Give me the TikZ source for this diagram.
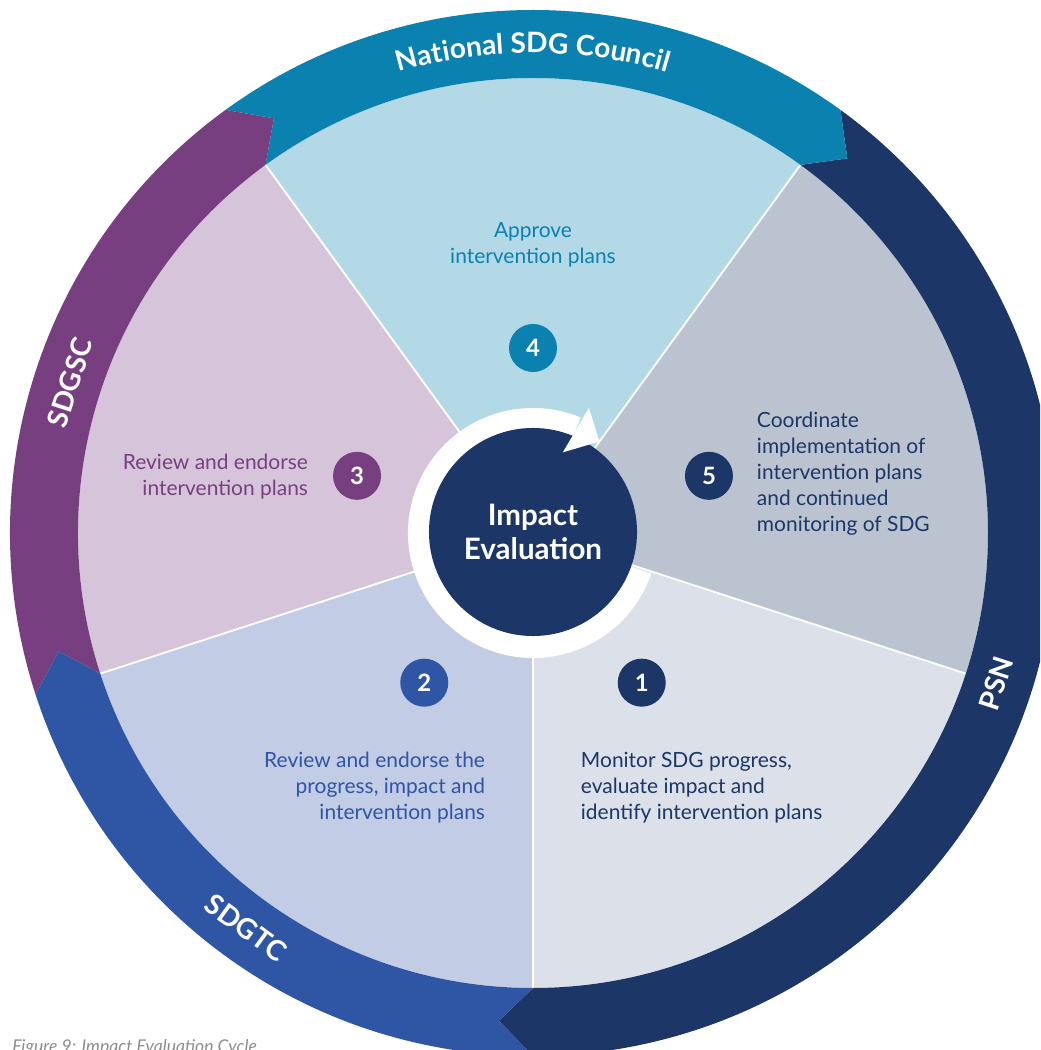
\documentclass[tikz,border=0pt]{standalone}
\usepackage{fontspec}
\setmainfont{Lato}
\usetikzlibrary{decorations.text}

\definecolor{psnnavy}{HTML}{1B3667}
\definecolor{councilteal}{HTML}{0A81AF}
\definecolor{sdgtcblue}{HTML}{2F55A5}
\definecolor{sdgscpurple}{HTML}{773F80}
\definecolor{secfour}{HTML}{B3D9E7}
\definecolor{secfive}{HTML}{BBC3D0}
\definecolor{secone}{HTML}{DCE0E8}
\definecolor{sectwo}{HTML}{C2CCE4}
\definecolor{secthree}{HTML}{D6C5DA}

% one arrow-shaped piece of the outer band: tail angle, head angle, colour
\newcommand{\bandseg}[3]{%
  \fill[#3] (#1:455) -- (#1-4:489) -- (#1:523)
    arc[start angle=#1, end angle=#2, radius=523] -- (#2-4:489) -- (#2:455)
    arc[start angle=#2, end angle=#1, radius=455] -- cycle;}

\begin{document}
\begin{tikzpicture}[scale=0.025,
    steptext/.style={font=\fontsize{14.9}{18.5}\selectfont},
    numdot/.style={circle, fill=#1, text=white, minimum size=1.2cm, inner sep=0pt,
      font=\fontsize{17}{17}\selectfont\bfseries},
    bandlabel/.style={text=white, font=\fontsize{20}{20}\selectfont\bfseries}]
  \useasboundingbox (-533,-517) rectangle (507,533);
  \clip (-533,-517) rectangle (507,533);

  % Draw the five sectors
  \foreach \s/\c in {54/secfour, 126/secthree, 198/sectwo, 270/secone, 342/secfive}
    \fill[\c] (0,0) -- (\s:455) arc[start angle=\s, end angle=\s+72, radius=455] -- cycle;
  \foreach \s in {54,126,198,270,342}
    \draw[white, line width=1.3pt] (0,0) -- (\s:455);

  % Outer band
  \bandseg{54}{-90}{psnnavy}
  \bandseg{126}{54}{councilteal}
  \bandseg{198}{126}{sdgscpurple}
  \bandseg{270}{198}{sdgtcblue}

  % Band labels
  \path[decorate, decoration={text along path, text align=center,
      text format delimiters={|}{|},
      text={|\color{white}\fontsize{20}{20}\selectfont\bfseries|National SDG Council}}]
    (122:480) arc[start angle=122, end angle=58, radius=480];
  \node[bandlabel, rotate=72] (sdgsc) at (162:487) {SDGSC};
  \node[bandlabel, rotate=-36] (sdgtc) at (234:488) {SDGTC};
  \node[bandlabel, rotate=72] (psn) at (-18:487) {PSN};

  % White cycle arrow and centre
  \fill[white] (67.5:100) arc[start angle=67.5, end angle=341, radius=100]
    -- (341:125) arc[start angle=341, end angle=67.5, radius=125] -- cycle;
  \node[circle, fill=psnnavy, minimum size=5.2cm, inner sep=0pt, text=white, align=center,
    font=\fontsize{21}{24.5}\selectfont\bfseries] (core) at (0,1) {Impact\\Evaluation};
  \fill[white] (69.7:86) -- (54:113) -- (65.9:137) -- cycle;

  % Step numbers
  \node[numdot=councilteal] (n4) at (90:185) {4};
  \node[numdot=psnnavy] (n5) at (18:185) {5};
  \node[numdot=psnnavy] (n1) at (-54:185) {1};
  \node[numdot=sdgtcblue] (n2) at (234:185) {2};
  \node[numdot=sdgscpurple] (n3) at (162:185) {3};

  % Step texts
  \node[steptext, text=councilteal, align=center] (t4) at (0,288) {Approve\\intervention plans};
  \node[steptext, text=psnnavy, align=left, anchor=west] (t5) at (219,59)
    {Coordinate\\implementation of\\intervention plans\\and continued\\monitoring of SDG};
  \node[steptext, text=psnnavy, align=left, anchor=west] (t1) at (43,-255)
    {Monitor SDG progress,\\evaluate impact and\\identify intervention plans};
  \node[steptext, text=sdgtcblue, align=right, anchor=east] (t2) at (-43,-255)
    {Review and endorse the\\progress, impact and\\intervention plans};
  \node[steptext, text=sdgscpurple, align=right, anchor=east] (t3) at (-220,56)
    {Review and endorse\\intervention plans};

  % Caption
  \node[anchor=base west, inner sep=0pt, text=black!45, font=\fontsize{12.5}{12.5}\selectfont\itshape]
    (caption) at (-521,-519) {Figure 9: Impact Evaluation Cycle};
\end{tikzpicture}
\end{document}
